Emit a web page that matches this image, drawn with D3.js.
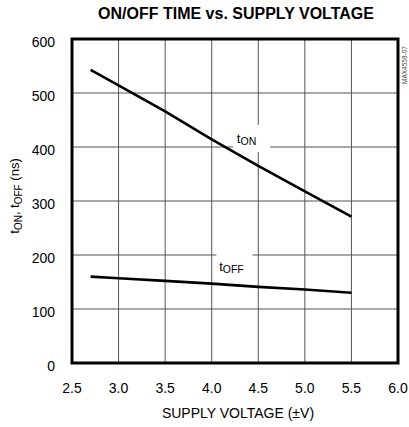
<meta charset="utf-8">
<body style="margin:0;background:#fff">
<script src="https://cdn.jsdelivr.net/npm/d3@7"></script>
<script>
    // data
    var voltage = [2.7, 3.0, 3.5, 4.0, 4.5, 5.0, 5.5];
    var tOn     = [543, 514, 466, 414, 365, 318, 271];
    var tOff    = [160, 157, 152, 147, 141, 136, 130];
    var xTicks  = [2.5, 3.0, 3.5, 4.0, 4.5, 5.0, 5.5, 6.0];
    var yTicks  = [0, 100, 200, 300, 400, 500, 600];

    var W = 409, H = 427;
    var margin = {top: 39, right: 11, bottom: 64, left: 72};
    var width  = W - margin.left - margin.right,
        height = H - margin.top - margin.bottom;

    var svg = d3.select("body").append("svg")
        .attr("width", W).attr("height", H)
        .style("font-family", "'Liberation Sans', Arial, sans-serif");

    var g = svg.append("g")
        .attr("transform", "translate(" + margin.left + "," + margin.top + ")");

    var x = d3.scaleLinear().domain([2.5, 6.0]).range([0, width]);
    var y = d3.scaleLinear().domain([0, 600]).range([height, 0]);

    // grid
    g.selectAll(".vgrid").data(xTicks.slice(1, -1)).enter().append("line")
        .attr("x1", d => x(d)).attr("x2", d => x(d))
        .attr("y1", 0).attr("y2", height)
        .attr("stroke", "#555").attr("stroke-width", 1);
    g.selectAll(".hgrid").data(yTicks.slice(1, -1)).enter().append("line")
        .attr("x1", 0).attr("x2", width)
        .attr("y1", d => y(d)).attr("y2", d => y(d))
        .attr("stroke", "#555").attr("stroke-width", 1);

    // white boxes behind the curve labels
    g.append("rect").attr("x", x(4.23)).attr("y", y(441))
        .attr("width", 37).attr("height", 27).attr("fill", "#fff");
    g.append("rect").attr("x", x(4.05)).attr("y", y(209))
        .attr("width", 36).attr("height", 26).attr("fill", "#fff");

    var line = d3.line().x(d => x(d[0])).y(d => y(d[1]));
    [tOn, tOff].forEach(function (s) {
        g.append("path")
            .attr("d", line(voltage.map((v, i) => [v, s[i]])))
            .attr("fill", "none").attr("stroke", "#000").attr("stroke-width", 2.6);
    });

    // frame
    g.append("rect").attr("x", 0).attr("y", 0).attr("width", width).attr("height", height)
        .attr("fill", "none").attr("stroke", "#000").attr("stroke-width", 3);

    // axes labels
    g.selectAll(".xt").data(xTicks).enter().append("text")
        .attr("x", d => x(d)).attr("y", height + 30)
        .attr("text-anchor", "middle").attr("font-size", 14)
        .text(d => d.toFixed(1));
    g.selectAll(".yt").data(yTicks).enter().append("text")
        .attr("x", -17).attr("y", d => y(d) + 8)
        .attr("text-anchor", "end").attr("font-size", 14)
        .text(d => d);

    svg.append("text").attr("x", 238).attr("y", 418)
        .attr("text-anchor", "middle").attr("font-size", 14)
        .text("SUPPLY VOLTAGE (\u00B1V)");

    svg.append("text").attr("x", 236).attr("y", 19)
        .attr("text-anchor", "middle").attr("font-size", 16).attr("font-weight", "bold")
        .text("ON/OFF TIME vs. SUPPLY VOLTAGE");

    var yt = svg.append("text")
        .attr("transform", "translate(19,196) rotate(-90)")
        .attr("text-anchor", "middle").attr("font-size", 13);
    yt.append("tspan").text("t");
    yt.append("tspan").attr("font-size", 10).attr("dy", 3).text("ON");
    yt.append("tspan").attr("dy", -3).text(", t");
    yt.append("tspan").attr("font-size", 10).attr("dy", 3).text("OFF");
    yt.append("tspan").attr("dy", -3).text(" (ns)");

    function curveLabel(v, val, sub) {
        var t = g.append("text").attr("x", x(v)).attr("y", y(val)).attr("font-size", 13);
        t.append("tspan").text("t");
        t.append("tspan").attr("font-size", 10.5).attr("dy", 2).text(sub);
    }
    curveLabel(4.27, 407, "ON");
    curveLabel(4.08, 171, "OFF");

    svg.append("text")
        .attr("transform", "translate(407,84) rotate(-90)")
        .attr("font-size", 6.5).attr("fill", "#444")
        .text("MAX4558-07");
</script>
</body>
